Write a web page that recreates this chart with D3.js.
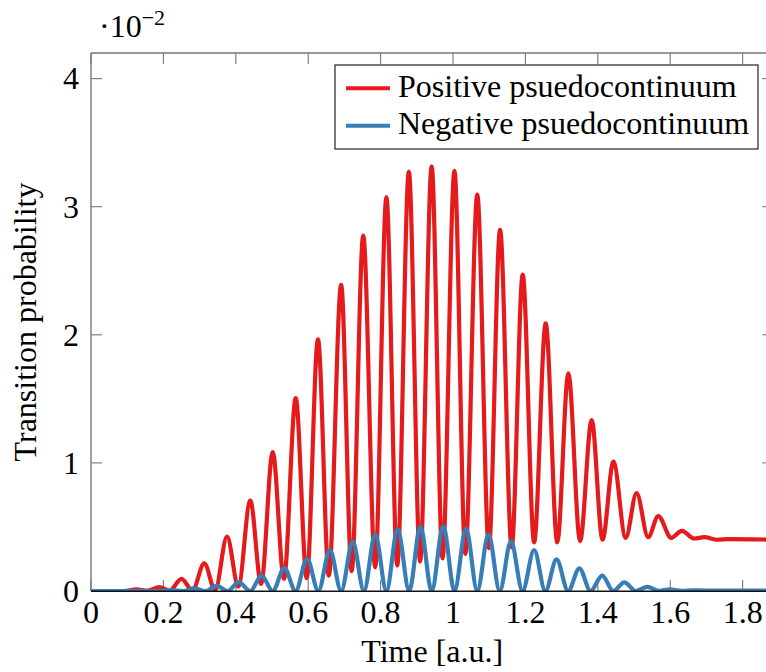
<!DOCTYPE html>
<html>
<head>
<meta charset="utf-8">
<script src="https://cdn.jsdelivr.net/npm/d3@7"></script>
<style>
  html, body { margin: 0; padding: 0; background: #fff; }
  svg { display: block; }
  text { font-family: "Liberation Serif", "DejaVu Serif", serif; fill: #000; }
</style>
</head>
<body>
<svg id="chart" width="766" height="672"></svg>
<script>
// ---- Data (values in units of 1e-2) ----
const seriesNames = ["Positive psuedocontinuum", "Negative psuedocontinuum"];
const seriesColors = ["#e41a1c", "#377eb8"];

// Positive pseudocontinuum: time points and probability values (extrema)
const positiveTime = [0, 0.09, 0.125, 0.155, 0.189, 0.217, 0.25, 0.28, 0.313, 0.343, 0.3757, 0.407, 0.44, 0.47,
  0.502, 0.533, 0.5655, 0.596, 0.627, 0.657, 0.691, 0.72, 0.752, 0.785, 0.816, 0.846, 0.878, 0.909, 0.941,
  0.971, 1.004, 1.034, 1.067, 1.099, 1.13, 1.162, 1.1925, 1.224, 1.256, 1.288, 1.3186, 1.351, 1.383, 1.413,
  1.443, 1.477, 1.507, 1.539, 1.567, 1.603, 1.632, 1.666, 1.694, 1.73, 1.76, 1.9];
const positiveValue = [0, 0, 0.012, 0.003, 0.03, 0.002, 0.095, 0.004, 0.215, 0.006, 0.425, 0.035, 0.705, 0.055,
  1.085, 0.095, 1.505, 0.1, 1.965, 0.12, 2.39, 0.155, 2.775, 0.185, 3.075, 0.2, 3.275, 0.23, 3.315,
  0.255, 3.28, 0.29, 3.095, 0.335, 2.82, 0.34, 2.47, 0.38, 2.09, 0.38, 1.70, 0.39, 1.335, 0.40,
  1.01, 0.415, 0.765, 0.42, 0.585, 0.415, 0.47, 0.41, 0.42, 0.40, 0.405, 0.40];

// Negative pseudocontinuum
const negativeTime = [0, 0.19, 0.222, 0.255, 0.285, 0.316, 0.347, 0.378, 0.408, 0.44, 0.471, 0.502, 0.534, 0.565,
  0.597, 0.628, 0.66, 0.691, 0.723, 0.754, 0.785, 0.816, 0.847, 0.879, 0.91, 0.941, 0.973, 1.004, 1.036,
  1.067, 1.098, 1.129, 1.16, 1.192, 1.224, 1.255, 1.286, 1.318, 1.349, 1.38, 1.412, 1.443, 1.473, 1.505,
  1.537, 1.568, 1.599, 1.63, 1.664, 1.70, 1.9];
const negativeValue = [0, 0, 0.008, 0, 0.022, 0, 0.04, 0, 0.07, 0, 0.12, 0, 0.18, 0,
  0.25, 0, 0.32, 0, 0.385, 0, 0.443, 0, 0.483, 0, 0.505, 0, 0.507, 0, 0.487,
  0, 0.443, 0, 0.387, 0, 0.32, 0, 0.247, 0, 0.177, 0, 0.12, 0, 0.068, 0,
  0.032, 0.002, 0.012, 0.002, 0.006, 0.003, 0.003];

const xTicks = [0, 0.2, 0.4, 0.6, 0.8, 1, 1.2, 1.4, 1.6, 1.8];
const yTicks = [0, 1, 2, 3, 4];
const xDomain = [0, 1.885];
const yDomain = [0, 4.2];

// ---- Layout ----
const svg = d3.select("#chart");
const pL = 91, pR = 773.4, pT = 53, pB = 591;
const x = d3.scaleLinear().domain(xDomain).range([pL, pR]);
const y = d3.scaleLinear().domain(yDomain).range([pB, pT]);
const FS = 32;
const tickLen = 11;
const axisColor = "#777";

// clip
svg.append("defs").append("clipPath").attr("id", "plotclip")
  .append("rect").attr("x", pL).attr("y", pT).attr("width", pR - pL).attr("height", pB - pT);

// ticks (inward on all four sides)
const tickG = svg.append("g").attr("stroke", axisColor).attr("stroke-width", 1.1);
xTicks.forEach(t => {
  tickG.append("line").attr("x1", x(t)).attr("x2", x(t)).attr("y1", pB).attr("y2", pB - tickLen);
  tickG.append("line").attr("x1", x(t)).attr("x2", x(t)).attr("y1", pT).attr("y2", pT + tickLen);
});
yTicks.forEach(t => {
  tickG.append("line").attr("x1", pL).attr("x2", pL + tickLen).attr("y1", y(t)).attr("y2", y(t));
  tickG.append("line").attr("x1", pR).attr("x2", pR - tickLen).attr("y1", y(t)).attr("y2", y(t));
});

// curves
const line = d3.line().x(d => x(d[0])).y(d => y(d[1])).curve(d3.curveMonotoneX);
const posData = positiveTime.map((t, i) => [t, positiveValue[i]]);
const negData = negativeTime.map((t, i) => [t, negativeValue[i]]);
const curves = svg.append("g").attr("clip-path", "url(#plotclip)");
curves.append("path").attr("d", line(posData)).attr("fill", "none")
  .attr("stroke", seriesColors[0]).attr("stroke-width", 4.2).attr("stroke-linejoin", "round");
curves.append("path").attr("d", line(negData)).attr("fill", "none")
  .attr("stroke", seriesColors[1]).attr("stroke-width", 4.2).attr("stroke-linejoin", "round");

// frame
svg.append("line").attr("x1", pL).attr("x2", pL).attr("y1", pT).attr("y2", pB)
  .attr("stroke", axisColor).attr("stroke-width", 1.4);
svg.append("line").attr("x1", pL).attr("x2", pR).attr("y1", pT).attr("y2", pT)
  .attr("stroke", axisColor).attr("stroke-width", 1.4);
svg.append("line").attr("x1", pR).attr("x2", pR).attr("y1", pT).attr("y2", pB)
  .attr("stroke", axisColor).attr("stroke-width", 1.4);
svg.append("line").attr("x1", pL).attr("x2", pR).attr("y1", pB + 0.3).attr("y2", pB + 0.3)
  .attr("stroke", "#111").attr("stroke-width", 1.4);

// tick labels
const fmt = d => (d === 0 ? "0" : String(+d.toFixed(1)));
svg.append("g").selectAll("text").data(xTicks).join("text")
  .attr("x", d => x(d)).attr("y", 623).attr("text-anchor", "middle")
  .attr("font-size", FS).text(fmt);
svg.append("g").selectAll("text").data(yTicks).join("text")
  .attr("x", 79).attr("y", d => y(d)).attr("dy", "0.34em").attr("text-anchor", "end")
  .attr("font-size", FS).text(d => d);

// scale multiplier
const mult = svg.append("text").attr("x", 99).attr("y", 37).attr("font-size", FS);
mult.append("tspan").text("·10");
mult.append("tspan").attr("font-size", 22).attr("dy", -12).text("−2");

// axis labels
svg.append("text").attr("x", (pL + pR) / 2).attr("y", 662).attr("text-anchor", "middle")
  .attr("font-size", FS).text("Time [a.u.]");
svg.append("text").attr("transform", `translate(36,${(pT + pB) / 2}) rotate(-90)`)
  .attr("text-anchor", "middle").attr("font-size", FS).text("Transition probability");

// legend
const lg = svg.append("g");
lg.append("rect").attr("x", 335).attr("y", 65).attr("width", 423).attr("height", 84)
  .attr("fill", "#fff").attr("stroke", "#222").attr("stroke-width", 1.2);
const legY = [88.3, 125.7];
const legBase = [97, 134];
seriesNames.forEach((name, i) => {
  lg.append("line").attr("x1", 346).attr("x2", 390).attr("y1", legY[i]).attr("y2", legY[i])
    .attr("stroke", seriesColors[i]).attr("stroke-width", 4);
  lg.append("text").attr("x", 398).attr("y", legBase[i]).attr("font-size", FS).text(name);
});
</script>
</body>
</html>
